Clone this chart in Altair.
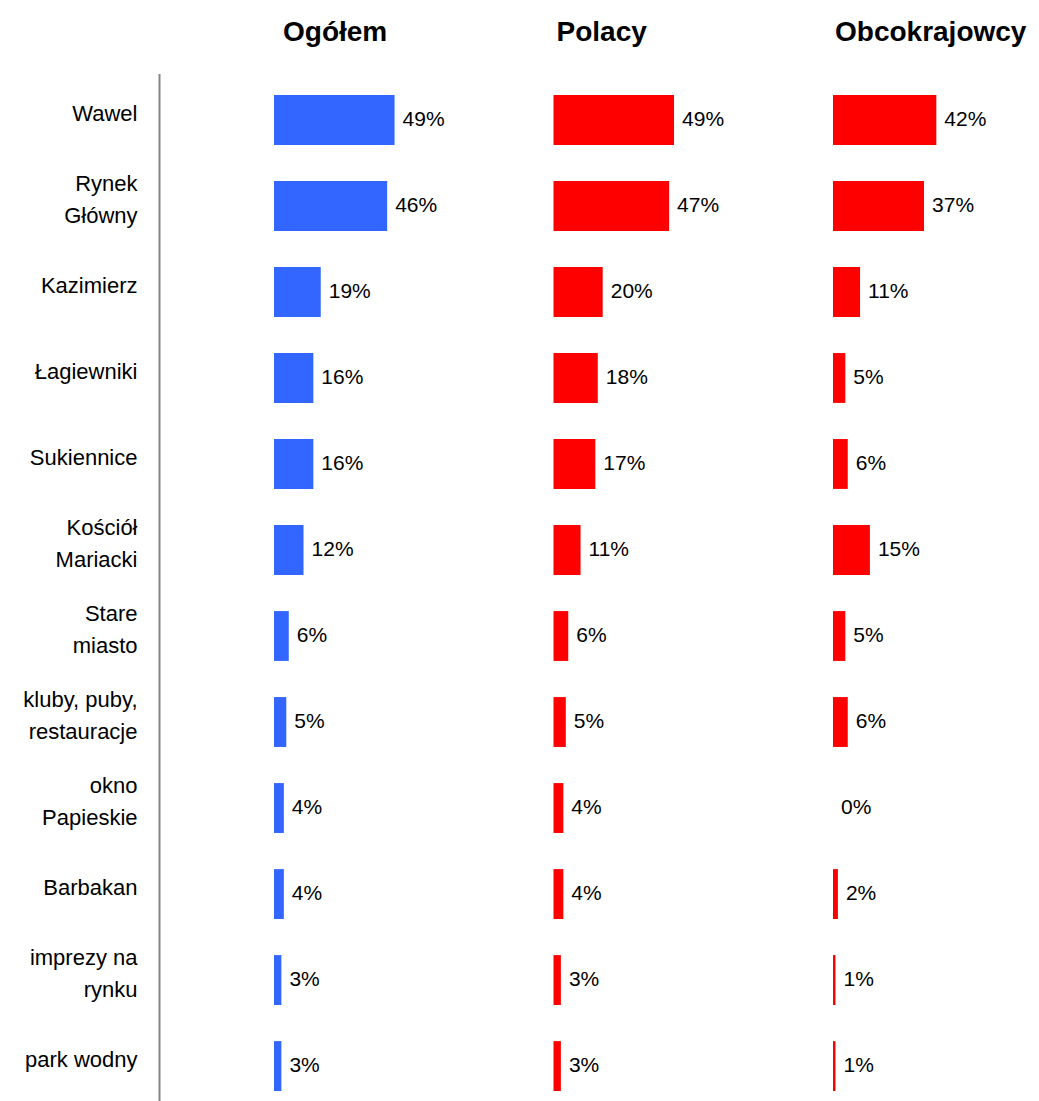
import altair as alt
import pandas as pd

categories = ["Wawel", "Rynek\nGłówny", "Kazimierz", "Łagiewniki", "Sukiennice",
              "Kościół\nMariacki", "Stare\nmiasto", "kluby, puby,\nrestauracje",
              "okno\nPapieskie", "Barbakan", "imprezy na\nrynku", "park wodny"]
ogolem = [49, 46, 19, 16, 16, 12, 6, 5, 4, 4, 3, 3]
polacy = [49, 47, 20, 18, 17, 11, 6, 5, 4, 4, 3, 3]
obcokrajowcy = [42, 37, 11, 5, 6, 15, 5, 6, 0, 2, 1, 1]
panel_titles = ["Ogółem", "Polacy", "Obcokrajowcy"]
series = [ogolem, polacy, obcokrajowcy]
colors = ["#3366FF", "#FF0000", "#FF0000"]
title_dx = [9, 3, 2]

FONT = "Liberation Sans"


def panel(i):
    df = pd.DataFrame({"kategoria": categories, "wartosc": series[i]})
    df["etykieta"] = df["wartosc"].astype(str) + "%"
    if i == 0:
        yaxis = alt.Axis(
            title=None, ticks=False, domainColor="#858585", domainWidth=2,
            labelFontSize=22, labelFont=FONT, labelColor="#000000",
            labelPadding=22, offset=115, labelLineHeight=32,
            labelExpr="split(datum.label, '\\n')", labelLimit=300, grid=False,
            labelOffset={"condition": {"test": "indexof(datum.value, '\\n') >= 0", "value": -22},
                         "value": -6},
        )
    else:
        yaxis = None
    base = alt.Chart(df).encode(
        y=alt.Y("kategoria:N", sort=categories,
                scale=alt.Scale(paddingInner=0.42, paddingOuter=0.25), axis=yaxis),
        x=alt.X("wartosc:Q", scale=alt.Scale(domain=[0, 50]), axis=None),
    )
    bars = base.mark_bar(color=colors[i])
    text = base.mark_text(align="left", baseline="middle", dx=8, fontSize=21,
                          font=FONT, color="#000000").encode(text="etykieta:N")
    return alt.layer(bars, text).properties(
        width=123, height=1039,
        title=alt.TitleParams(panel_titles[i], anchor="start", frame="group",
                              dx=title_dx[i], fontSize=28, font=FONT,
                              fontWeight="bold", color="#000000", offset=27),
    )


chart = alt.hconcat(
    panel(0), panel(1), panel(2), spacing=156.5, bounds="flush"
).properties(
    padding={"left": 14, "top": 10.5, "right": 0, "bottom": 0}
).configure_view(stroke=None)

chart.save("out.html", embed_options={"renderer": "svg", "actions": False})
